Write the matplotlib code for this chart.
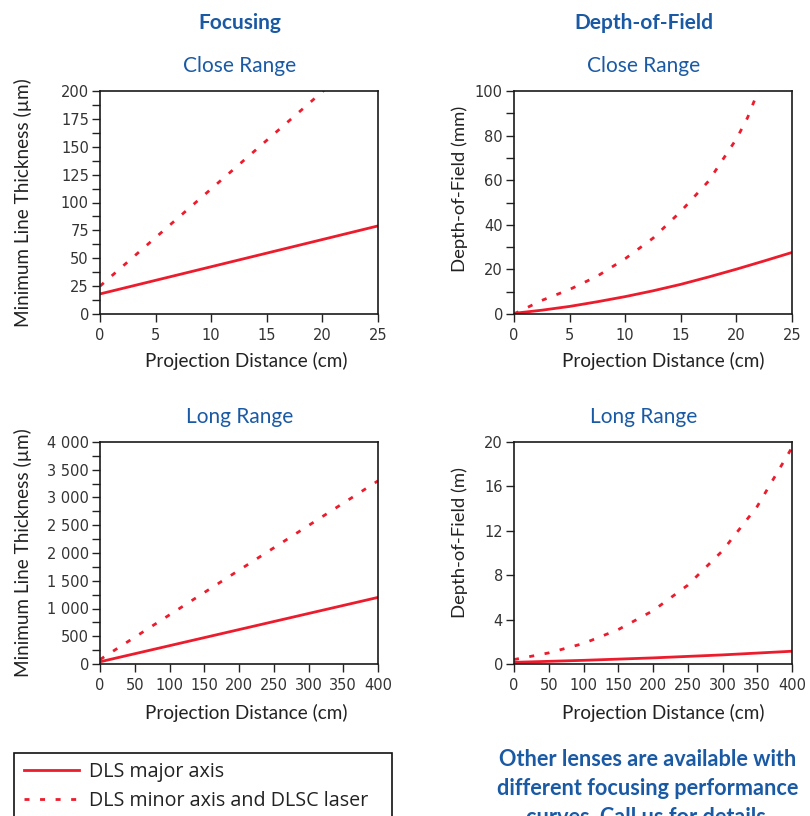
import matplotlib
matplotlib.use('Agg')
import matplotlib.pyplot as plt
from matplotlib import font_manager
from matplotlib.patches import Rectangle

avail = {f.name for f in font_manager.fontManager.ttflist}
base = 'Lato' if 'Lato' in avail else 'DejaVu Sans'
wide = 'Open Sans' if 'Open Sans' in avail else base
plt.rcParams['font.family'] = [base, 'DejaVu Sans']

# ---------------- data ----------------
# Focusing - close range (x in cm, y in um)
fc_x_major = [0, 5, 10, 15, 20, 25]
fc_y_major = [18, 30.2, 42.4, 54.6, 66.8, 79]
fc_x_minor = [0, 5, 10, 15, 20, 21]
fc_y_minor = [25, 68.6, 112.2, 155.8, 199.4, 208]

# Focusing - long range (x in cm, y in um)
fl_x_major = [0, 100, 200, 300, 400]
fl_y_major = [40, 330, 620, 910, 1200]
fl_x_minor = [0, 100, 200, 300, 400]
fl_y_minor = [80, 885, 1690, 2495, 3300]

# Depth of field - close range (x in cm, y in mm)
dc_x_major = [0, 2.5, 5, 7.5, 10, 12.5, 15, 17.5, 20, 22.5, 25]
dc_y_major = [0.3, 1.7, 3.4, 5.5, 7.8, 10.4, 13.3, 16.6, 20.1, 23.8, 27.6]
dc_x_minor = [0, 2.5, 5, 7.5, 10, 12.5, 15, 17.5, 20, 21, 22]
dc_y_minor = [0, 6.1, 11.0, 17.0, 24.8, 34.0, 46.0, 59.6, 78.5, 88.0, 100.5]

# Depth of field - long range (x in cm, y in m)
dl_x_major = [0, 100, 200, 300, 400]
dl_y_major = [0.15, 0.33, 0.55, 0.82, 1.15]
dl_x_minor = [0, 50, 100, 150, 200, 250, 300, 350, 400]
dl_y_minor = [0.4, 1.0, 1.85, 3.1, 4.8, 7.1, 10.2, 14.2, 19.5]

# ticks
close_xticks = [0, 5, 10, 15, 20, 25]
long_xticks = [0, 50, 100, 150, 200, 250, 300, 350, 400]
fc_yticks = [0, 25, 50, 75, 100, 125, 150, 175, 200]
fc_yminor = [12.5, 37.5, 62.5, 87.5, 112.5, 137.5, 162.5, 187.5]
fl_yticks = [0, 500, 1000, 1500, 2000, 2500, 3000, 3500, 4000]
fl_yticklabels = ['0', '500', '1 000', '1 500', '2 000', '2 500', '3 000', '3 500', '4 000']
fl_yminor = [250, 750, 1250, 1750, 2250, 2750, 3250, 3750]
dc_yticks = [0, 20, 40, 60, 80, 100]
dc_yminor = [10, 30, 50, 70, 90]
dl_yticks = [0, 4, 8, 12, 16, 20]

labels_series = ['DLS major axis', 'DLS minor axis and DLSC laser']

RED = '#ec1c2d'
BLUE = '#1a5aa5'
W, H = 810, 816

fig = plt.figure(figsize=(W / 100, H / 100), dpi=100)


def fx(px):
    return px / W


def fy(py):
    return 1 - py / H


def make_ax(l, t, r, b):
    return fig.add_axes([fx(l), fy(b), fx(r) - fx(l), fy(t) - fy(b)])


DASH = (0, (1.8, 3.8))


def setup(ax, xlim, xticks, ylim, yticks, yticklabels, yminor, ylabel, ylabel_pos, ylabel_size,
          xlabel_pos):
    ax.set_xlim(*xlim)
    ax.set_ylim(*ylim)
    ax.set_xticks(xticks, [str(v) for v in xticks])
    ax.set_yticks(yticks, yticklabels)
    if yminor:
        ax.set_yticks(yminor, minor=True)
    ax.tick_params(axis='both', which='both', direction='out', length=6, width=1,
                   color='#222222', labelsize=10.5, labelcolor='#333333',
                   labelfontfamily='DejaVu Sans')
    ax.tick_params(axis='y', which='both', pad=2)
    ax.tick_params(axis='x', which='both', pad=4)
    for sp in ax.spines.values():
        sp.set_linewidth(1.2)
        sp.set_color('#1a1a1a')
    ax.set_xlabel('Projection Distance (cm)', fontsize=13.6, color='#222222')
    ax.xaxis.set_label_coords(*xlabel_pos)
    ax.set_ylabel(ylabel, fontsize=ylabel_size, color='#222222')
    ax.yaxis.set_label_coords(*ylabel_pos)


# top-left
ax1 = make_ax(100, 91, 378, 314)
l_major, = ax1.plot(fc_x_major, fc_y_major, color=RED, lw=2.0, label=labels_series[0])
l_minor, = ax1.plot(fc_x_minor, fc_y_minor, color=RED, lw=2.0, ls=DASH, label=labels_series[1])
setup(ax1, (0, 25), close_xticks, (0, 200), fc_yticks, [str(v) for v in fc_yticks], fc_yminor,
      'Minimum Line Thickness (µm)', (-0.245, 0.5), 13.6, (0.525, -0.17))

# top-right
ax2 = make_ax(514, 91, 792, 314)
ax2.plot(dc_x_major, dc_y_major, color=RED, lw=2.0)
ax2.plot(dc_x_minor, dc_y_minor, color=RED, lw=2.0, ls=DASH)
setup(ax2, (0, 25), close_xticks, (0, 100), dc_yticks, [str(v) for v in dc_yticks], dc_yminor,
      'Depth-of-Field (mm)', (-0.165, 0.56), 13.3, (0.536, -0.17))

# bottom-left
ax3 = make_ax(100, 442, 378, 664)
ax3.plot(fl_x_major, fl_y_major, color=RED, lw=2.0)
ax3.plot(fl_x_minor, fl_y_minor, color=RED, lw=2.0, ls=DASH)
setup(ax3, (0, 400), long_xticks, (0, 4000), fl_yticks, fl_yticklabels, fl_yminor,
      'Minimum Line Thickness (µm)', (-0.245, 0.5), 13.6, (0.525, -0.18))

# bottom-right
ax4 = make_ax(514, 442, 792, 664)
ax4.plot(dl_x_major, dl_y_major, color=RED, lw=2.0)
ax4.plot(dl_x_minor, dl_y_minor, color=RED, lw=2.0, ls=DASH)
setup(ax4, (0, 400), long_xticks, (0, 20), dl_yticks, [str(v) for v in dl_yticks], None,
      'Depth-of-Field (m)', (-0.165, 0.547), 13.3, (0.536, -0.18))

# titles
fig.text(fx(240), fy(29), 'Focusing', fontsize=15, fontweight='bold', color=BLUE, ha='center', va='baseline')
fig.text(fx(644), fy(29), 'Depth-of-Field', fontsize=15, fontweight='bold', color=BLUE, ha='center', va='baseline')
fig.text(fx(240), fy(72), 'Close Range', fontsize=15, color=BLUE, ha='center', va='baseline')
fig.text(fx(644), fy(72), 'Close Range', fontsize=15, color=BLUE, ha='center', va='baseline')
fig.text(fx(240), fy(423), 'Long Range', fontsize=15, color=BLUE, ha='center', va='baseline')
fig.text(fx(644), fy(423), 'Long Range', fontsize=15, color=BLUE, ha='center', va='baseline')

# legend
fig.patches.append(Rectangle((fx(14), fy(830)), fx(391.6) - fx(14), fy(752.7) - fy(830),
                             transform=fig.transFigure, fill=False, edgecolor='#111111', lw=1.2))
fig.legend(handles=[l_major, l_minor], labels=labels_series, loc='upper left',
           bbox_to_anchor=(fx(18), fy(756)), frameon=False,
           prop={'family': [wide, 'DejaVu Sans'], 'size': 14.2},
           handlelength=2.8, handletextpad=0.5, labelspacing=0.48, borderpad=0.3,
           borderaxespad=0, labelcolor='#222222')

# note
note = ['Other lenses are available with', 'different focusing performance', 'curves. Call us for details.']
for i, line in enumerate(note):
    fig.text(fx(648), fy(766 + 29 * i), line, fontsize=15.6, fontweight='bold', color=BLUE,
             ha='center', va='baseline')

fig.savefig('out.png', dpi=100)
